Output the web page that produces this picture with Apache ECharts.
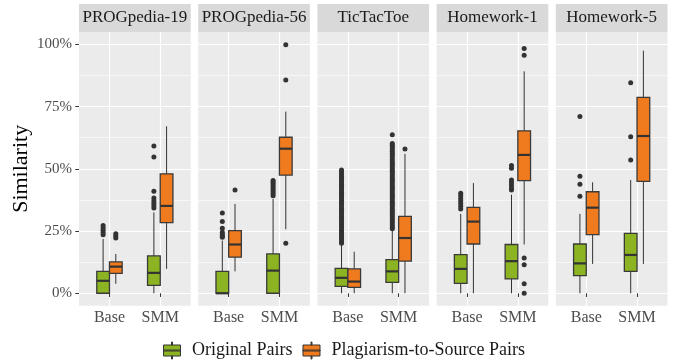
<!DOCTYPE html>
<html>
<head>
<meta charset="utf-8">
<script src="https://cdn.jsdelivr.net/npm/echarts@6/dist/echarts.min.js"></script>
<style>
  html, body { margin: 0; padding: 0; background: #fff; }
  #chart { width: 678px; height: 364px; }
</style>
</head>
<body>
<div id="chart"></div>
<script>
// facets, x categories and fill groups
const datasets = ['PROGpedia-19', 'PROGpedia-56', 'TicTacToe', 'Homework-1', 'Homework-5'];
const methods = ['Base', 'SMM'];
const groups = ['Original Pairs', 'Plagiarism-to-Source Pairs'];
const groupColors = ['#8cb422', '#f07b1f'];
const yTicks = [0, 25, 50, 75, 100];
const yMinorTicks = [12.5, 37.5, 62.5, 87.5];

// box stats [low whisker, q1, median, q3, high whisker] in %, per dataset, per method (Base, SMM)
const originalStats = [
    [[0, 0, 5.0, 8.8, 21.8], [0, 3.2, 8.2, 15.0, 32.5]],
    [[0, 0, 0, 8.8, 21.2], [0, 0, 9.1, 15.8, 37.9]],
    [[0, 2.8, 6.2, 10.0, 19.6], [0, 4.4, 8.8, 13.5, 25.5]],
    [[0, 4.0, 9.8, 15.5, 31.9], [0, 5.8, 12.9, 19.6, 39.6]],
    [[0, 7.1, 12.0, 19.8, 31.9], [0, 8.8, 15.4, 24.1, 45.5]]
];
const plagiarismStats = [
    [[3.8, 8.0, 10.7, 12.6, 15.8], [9.8, 28.4, 35.1, 48.0, 67.1]],
    [[8.8, 14.5, 19.6, 25.2, 35.9], [25.7, 47.5, 58.1, 62.7, 73.0]],
    [[0, 2.4, 4.7, 9.8, 16.7], [0, 12.9, 22.2, 30.9, 56.0]],
    [[0, 19.8, 28.8, 34.5, 44.3], [19.6, 45.3, 55.6, 65.3, 89.2]],
    [[11.8, 23.6, 34.4, 40.8, 44.6], [11.8, 45.0, 63.2, 78.7, 97.5]]
];

// outliers in %, per dataset, per method (Base, SMM)
const originalOutliers = [
    [[23.5, 24.4, 25.3, 26.2, 27.2], [34.3, 35.2, 36.2, 37.2, 38.3, 41.0, 54.8, 59.2]],
    [[22.5, 23.0, 23.6, 24.5, 26.1, 28.8, 32.3], [39.2, 40.0, 40.8, 41.6, 42.4, 43.2, 44.0, 44.7, 45.3]],
    [[20.1, 20.8, 21.6, 22.3, 23.1, 23.9, 24.6, 25.4, 26.3, 27.0, 27.8, 28.7, 29.5, 30.2, 31.0, 31.9,
      32.7, 33.4, 34.2, 35.1, 35.9, 36.6, 37.4, 38.3, 39.1, 39.8, 40.6, 41.5, 42.3, 43.0, 43.8, 44.7,
      45.5, 46.2, 47.0, 47.9, 48.7, 49.5],
     [25.9, 26.6, 27.4, 28.3, 29.1, 29.8, 30.6, 31.5, 32.3, 33.0, 33.8, 34.7, 35.5, 36.2, 37.0, 37.9,
      38.7, 39.4, 40.2, 41.1, 41.9, 42.6, 43.4, 44.3, 45.1, 45.8, 46.6, 47.5, 48.3, 49.0, 49.8, 50.7,
      51.5, 52.2, 53.0, 53.8, 54.8, 55.6, 56.3, 57.1, 58.0, 58.8, 59.5, 60.2, 63.7]],
    [[33.9, 35.0, 36.1, 37.1, 38.1, 39.2, 40.2], [41.5, 42.3, 43.4, 44.5, 45.5, 50.2, 51.3]],
    [[39.0, 43.8, 47.0, 71.0], [53.6, 62.9, 84.6]]
];
const plagiarismOutliers = [
    [[22.2, 23.0, 23.9], []],
    [[41.5], [20.1, 85.7, 99.9]],
    [[], [58.0]],
    [[], [0, 3.8, 11.5, 14.2, 95.7, 98.4]],
    [[], []]
];

const FONT = 'Liberation Serif';
const panelLeft = 79, panelStep = 119.2, panelWidth = 111.7;
const panelTop = 32, panelHeight = 273.7;
const stripTop = 4, stripHeight = 28;
const dodge = 0.125, boxWidth = 0.25;

const allStats = [originalStats, plagiarismStats];
const allOutliers = [originalOutliers, plagiarismOutliers];

function renderBox(params, api) {
    const x = api.value(0);
    const low = api.coord([x, api.value(1)]);
    const q1 = api.coord([x, api.value(2)]);
    const med = api.coord([x, api.value(3)]);
    const q3 = api.coord([x, api.value(4)]);
    const high = api.coord([x, api.value(5)]);
    const halfW = api.size([boxWidth, 0])[0] / 2;
    const cx = q1[0];
    const line = '#333333';
    return {
        type: 'group',
        children: [
            { type: 'line', shape: { x1: cx, y1: high[1], x2: cx, y2: q3[1] }, style: { stroke: line, lineWidth: 1 } },
            { type: 'line', shape: { x1: cx, y1: q1[1], x2: cx, y2: low[1] }, style: { stroke: line, lineWidth: 1 } },
            { type: 'rect', shape: { x: cx - halfW, y: q3[1], width: halfW * 2, height: q1[1] - q3[1] },
              style: { fill: api.visual('color'), stroke: '#3a3a3a', lineWidth: 1.3 } },
            { type: 'line', shape: { x1: cx - halfW, y1: med[1], x2: cx + halfW, y2: med[1] },
              style: { stroke: line, lineWidth: 2.2 } }
        ]
    };
}

const grids = [], xAxes = [], yAxes = [], series = [], graphics = [];

datasets.forEach((name, i) => {
    const left = panelLeft + i * panelStep;
    grids.push({ left: left, top: panelTop, width: panelWidth, height: panelHeight,
        show: true, backgroundColor: '#ebebeb', borderWidth: 0 });
    xAxes.push({
        type: 'value', gridIndex: i, min: 0.4, max: 2.6,
        axisLine: { show: false },
        axisTick: { show: true, customValues: [1, 2], length: 3.7, lineStyle: { color: '#333', width: 1 } },
        axisLabel: { show: true, customValues: [1, 2], formatter: v => methods[Math.round(v) - 1],
            margin: 4, color: '#4d4d4d', fontSize: 16, fontFamily: FONT },
        splitLine: { show: true, lineStyle: { color: '#ffffff', width: 1.2 } }
    });
    yAxes.push({
        type: 'value', gridIndex: i, min: -5, max: 105,
        name: i === 0 ? 'Similarity' : '', nameLocation: 'middle', nameRotate: 90, nameGap: 47,
        nameTextStyle: { fontSize: 22, color: '#000', fontFamily: FONT },
        axisLine: { show: false },
        axisTick: { show: i === 0, customValues: yTicks, length: 3.7, lineStyle: { color: '#333', width: 1 } },
        axisLabel: { show: i === 0, customValues: yTicks, formatter: v => v + '%',
            margin: 7, color: '#4d4d4d', fontSize: 15, fontFamily: FONT },
        splitLine: { show: true, lineStyle: { color: '#ffffff', width: 1.2 } }
    });
    yAxes.push({
        type: 'value', gridIndex: i, min: -5, max: 105, position: 'left',
        axisLine: { show: false },
        axisTick: { show: false, customValues: yMinorTicks },
        axisLabel: { show: false, customValues: yMinorTicks },
        splitLine: { show: true, lineStyle: { color: '#ffffff', width: 0.6 } }
    });

    groups.forEach((g, gi) => {
        const offset = gi === 0 ? -dodge : dodge;
        series.push({
            type: 'custom', name: g, xAxisIndex: i, yAxisIndex: 2 * i,
            itemStyle: { color: groupColors[gi] },
            renderItem: renderBox,
            encode: { x: 0, y: [1, 2, 3, 4, 5] },
            data: methods.map((m, mi) => [mi + 1 + offset].concat(allStats[gi][i][mi])),
            z: 3
        });
        const pts = [];
        methods.forEach((m, mi) => {
            allOutliers[gi][i][mi].forEach(v => pts.push([mi + 1 + offset, v]));
        });
        series.push({
            type: 'scatter', name: g + ' outliers', xAxisIndex: i, yAxisIndex: 2 * i,
            symbolSize: 5, itemStyle: { color: '#333333', opacity: 1 },
            data: pts, z: 4, silent: true
        });
    });

    graphics.push({ type: 'rect', shape: { x: left, y: stripTop, width: panelWidth, height: stripHeight },
        style: { fill: '#d9d9d9' }, silent: true });
    graphics.push({ type: 'text', style: { text: name, x: left + panelWidth / 2, y: stripTop + stripHeight / 2,
        textAlign: 'center', textVerticalAlign: 'middle', font: '17px "' + FONT + '"', fill: '#1a1a1a' }, silent: true });
});

// legend key: whisker stubs, box, median
const keyIcon = 'path://M8.5,0h1v3h-1Z M0.5,3h17v11h-17Z M0.5,8h17v1h-17Z M8.5,14h1v3h-1Z';

const chart = echarts.init(document.getElementById('chart'), null, { renderer: 'canvas' });
chart.setOption({
    animation: false,
    backgroundColor: '#ffffff',
    grid: grids,
    xAxis: xAxes,
    yAxis: yAxes,
    graphic: graphics,
    legend: {
        data: groups, left: 163, top: 341.5, padding: 0, itemWidth: 18, itemHeight: 17, itemGap: 10,
        icon: keyIcon,
        itemStyle: { borderColor: '#333333', borderWidth: 1 },
        textStyle: { fontSize: 18, color: '#1a1a1a', fontFamily: FONT, padding: [0, 0, 0, 6] }
    },
    series: series
});
</script>
</body>
</html>
